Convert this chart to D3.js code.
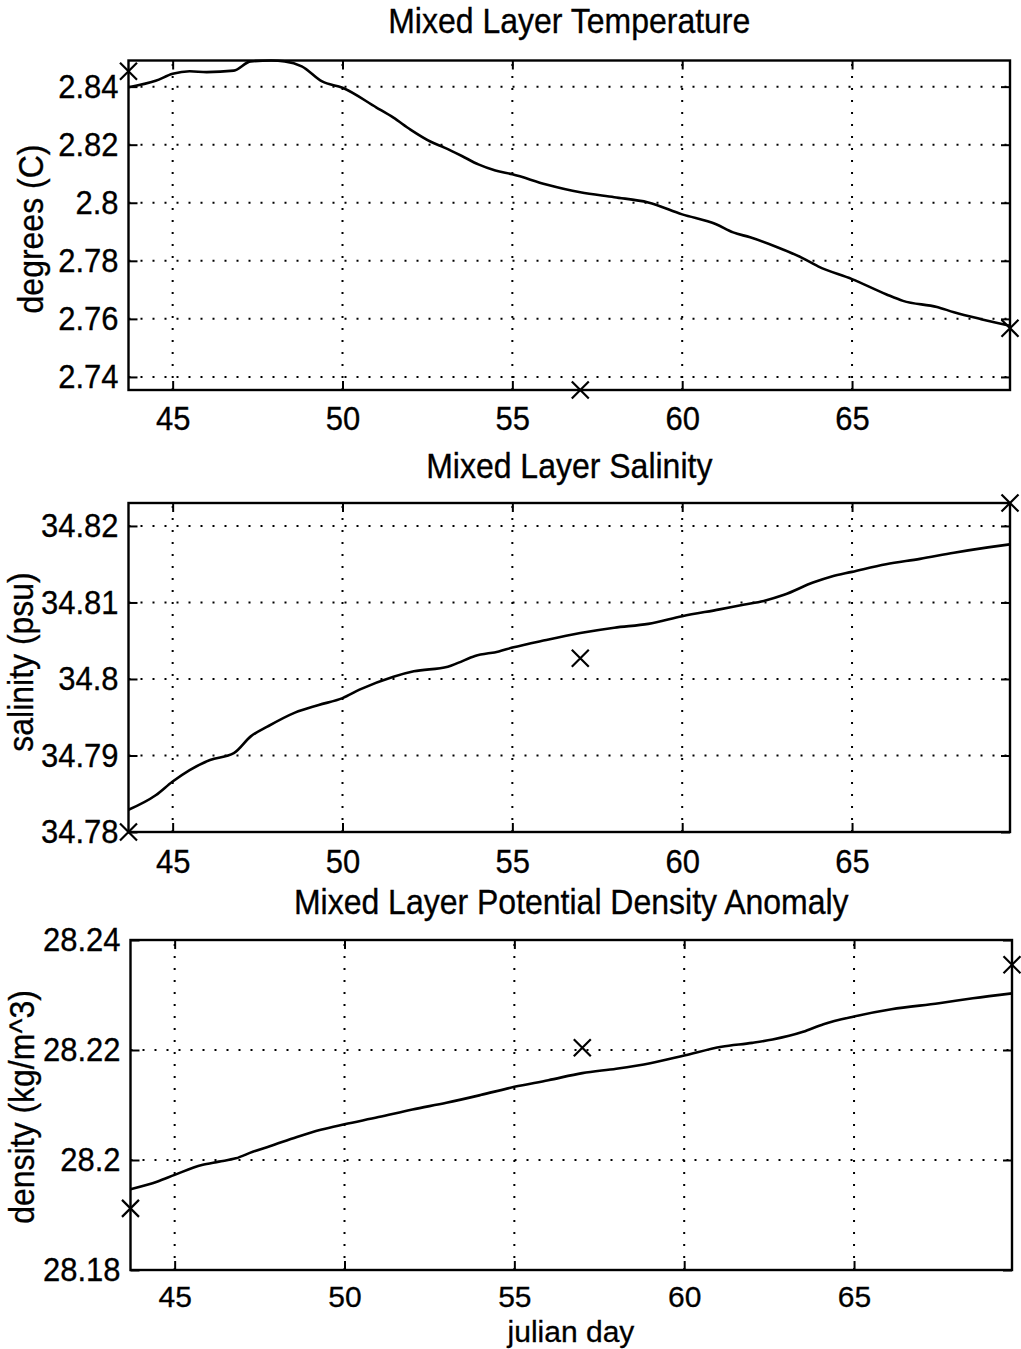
<!DOCTYPE html>
<html>
<head>
<meta charset="utf-8">
<script src="https://cdn.jsdelivr.net/npm/d3@7"></script>
<style>
  html, body { margin: 0; padding: 0; background: #fff; }
  svg { display: block; }
  text { font-family: "Liberation Sans", Arial, Helvetica, sans-serif; fill: #000; stroke: #000; stroke-width: 0.3px; }
</style>
</head>
<body>
<svg id="chart" width="1021" height="1349"></svg>
<script>
// ---------------- data ----------------
const xTicks = [45, 50, 55, 60, 65];
const markerDays = [43.7, 57, 69.65];

const tempDays = [43.7, 44.5, 45, 45.5, 46, 46.8, 47.3, 47.9, 48.3, 48.8, 49.4, 50, 51, 51.5, 52, 52.6, 53, 53.5, 54, 54.5, 55, 56, 57, 58, 59, 60, 61, 61.5, 62, 62.8, 63.5, 64, 65, 66, 66.5, 67.5, 68, 68.8, 69.65];
const tempVals = [2.8398, 2.8420, 2.8444, 2.8453, 2.8450, 2.8455, 2.8487, 2.8490, 2.8487, 2.8470, 2.8418, 2.8396, 2.8328, 2.8293, 2.8252, 2.8210, 2.8190, 2.8162, 2.8132, 2.8111, 2.8098, 2.8063, 2.8036, 2.8019, 2.8001, 2.7960, 2.7926, 2.7898, 2.7881, 2.7847, 2.7812, 2.7781, 2.7737, 2.7685, 2.7662, 2.7641, 2.7623, 2.7599, 2.7576];
const tempMarkers = [2.8453, 2.7355, 2.7568];
const tempTicks = [2.74, 2.76, 2.78, 2.80, 2.82, 2.84];

const salDays = [43.7, 44.5, 45, 45.5, 46.1, 46.8, 47.3, 47.8, 48.6, 49.3, 50, 50.5, 51.5, 52.1, 53.1, 53.4, 53.9, 54.6, 55, 56, 57, 58, 59, 60, 61.1, 61.8, 62.4, 63, 63.85, 64.4, 65, 66, 67, 68, 69, 69.65];
const salVals = [34.7829, 34.7848, 34.7866, 34.7881, 34.7894, 34.7903, 34.7925, 34.7938, 34.7956, 34.7966, 34.7975, 34.7986, 34.8003, 34.8010, 34.8016, 34.8021, 34.8030, 34.8036, 34.8041, 34.8051, 34.8060, 34.8067, 34.8072, 34.8082, 34.8091, 34.8097, 34.8102, 34.8110, 34.8126, 34.8134, 34.8140, 34.8150, 34.8157, 34.8165, 34.8172, 34.8176];
const salMarkers = [34.7800, 34.8027, 34.8230];
const salTicks = [34.78, 34.79, 34.80, 34.81, 34.82];

const densDays = [43.7, 44.5, 45, 45.8, 46.3, 46.8, 47.3, 47.8, 48.6, 49.3, 50, 51, 52, 53, 54, 55, 56, 57, 58, 59, 60, 61.1, 62, 62.6, 63.5, 64.1, 65, 66.1, 67.5, 68.5, 69.65];
const densVals = [28.1947, 28.1961, 28.1973, 28.1991, 28.1997, 28.2003, 28.2015, 28.2025, 28.2042, 28.2055, 28.2065, 28.2078, 28.2092, 28.2104, 28.2118, 28.2133, 28.2145, 28.2158, 28.2166, 28.2176, 28.2190, 28.2206, 28.2213, 28.2219, 28.2233, 28.2247, 28.2261, 28.2274, 28.2285, 28.2294, 28.2303];
const densMarkers = [28.1912, 28.2204, 28.2355];
const densTicks = [28.18, 28.20, 28.22, 28.24];

const xDomain = [43.7, 69.65];

// ---------------- layout ----------------
const svg = d3.select("#chart");
const FONT = 31, TFONT = 32, VS = 1.1;

const panels = [
  { title: "Mixed Layer Temperature", ylabel: "degrees (C)", days: tempDays, vals: tempVals, markers: tempMarkers, ticks: tempTicks,
    yDomain: [2.7355, 2.849], left: 128.5, right: 1010, top: 60.5, bottom: 390, titleY: 33, ylabX: 43, ylabY: 229, xpad: 16, xvs: VS, xfont: FONT },
  { title: "Mixed Layer Salinity", ylabel: "salinity (psu)", days: salDays, vals: salVals, markers: salMarkers, ticks: salTicks,
    yDomain: [34.78, 34.823], left: 128.5, right: 1010, top: 503, bottom: 832, titleY: 478, ylabX: 33, ylabY: 662, xpad: 17, xvs: VS, xfont: FONT },
  { title: "Mixed Layer Potential Density Anomaly", ylabel: "density (kg/m^3)", days: densDays, vals: densVals, markers: densMarkers, ticks: densTicks,
    yDomain: [28.18, 28.24], left: 130.5, right: 1012, top: 940, bottom: 1270, titleY: 914, ylabX: 34, ylabY: 1107, xpad: 16, xvs: 1, xfont: 30 }
];

const fmt = v => String(+v.toFixed(3));

// stretch texts vertically like the scanned original
function stretch(sel, vs) {
  sel.each(function () {
    const t = d3.select(this);
    const x = +t.attr("x") || 0, y = +t.attr("y") || 0;
    t.attr("x", 0).attr("y", 0).attr("transform", `translate(${x},${y}) scale(1,${vs})`);
  });
}

panels.forEach((p, i) => {
  const x = d3.scaleLinear().domain(xDomain).range([p.left, p.right]);
  const y = d3.scaleLinear().domain(p.yDomain).range([p.bottom, p.top]);
  const g = svg.append("g");
  const W = p.right - p.left, H = p.bottom - p.top;

  // grid (dotted)
  const grid = g.append("g").attr("stroke", "#000").attr("stroke-width", 2).attr("stroke-dasharray", "2,10");
  xTicks.forEach(t => {
    grid.append("line").attr("x1", x(t)).attr("x2", x(t)).attr("y1", p.bottom).attr("y2", p.top);
  });
  p.ticks.forEach(t => {
    grid.append("line").attr("x1", p.left).attr("x2", p.right).attr("y1", y(t)).attr("y2", y(t));
  });

  // axes via d3 (inward ticks)
  const xb = g.append("g").attr("transform", `translate(0,${p.bottom})`)
    .call(d3.axisBottom(x).tickValues(xTicks).tickSize(-9).tickPadding(p.xpad).tickFormat(d3.format("d")));
  const xt = g.append("g").attr("transform", `translate(0,${p.top})`)
    .call(d3.axisTop(x).tickValues(xTicks).tickSize(-9).tickFormat(""));
  const yl = g.append("g").attr("transform", `translate(${p.left},0)`)
    .call(d3.axisLeft(y).tickValues(p.ticks).tickSize(-9).tickPadding(10).tickFormat(fmt));
  const yr = g.append("g").attr("transform", `translate(${p.right},0)`)
    .call(d3.axisRight(y).tickValues(p.ticks).tickSize(-9).tickFormat(""));
  [xb, xt, yl, yr].forEach(a => {
    a.select(".domain").remove();
    a.selectAll(".tick line").attr("stroke", "#000").attr("stroke-width", 2);
    a.selectAll("text").style("font-size", FONT + "px").attr("fill", "#000");
  });
  xb.selectAll("text").attr("dy", "0.71em").style("font-size", p.xfont + "px");
  stretch(xb.selectAll("text"), p.xvs);
  stretch(yl.selectAll("text"), VS);

  // box
  g.append("rect").attr("x", p.left).attr("y", p.top).attr("width", W).attr("height", H)
    .attr("fill", "none").attr("stroke", "#000").attr("stroke-width", 2.4);

  // data line
  const line = d3.line().x((d, k) => x(p.days[k])).y(d => y(d)).curve(d3.curveMonotoneX);
  g.append("path").datum(p.vals).attr("d", line).attr("fill", "none").attr("stroke", "#000").attr("stroke-width", 2.6);

  // X markers
  const s = 8.5;
  p.markers.forEach((v, k) => {
    const cx = x(markerDays[k]), cy = y(v);
    g.append("path").attr("d", `M${cx - s},${cy - s}L${cx + s},${cy + s}M${cx - s},${cy + s}L${cx + s},${cy - s}`)
      .attr("stroke", "#000").attr("stroke-width", 2.2).attr("fill", "none");
  });

  // title
  svg.append("text").attr("transform", `translate(${(p.left + p.right) / 2},${p.titleY}) scale(1,${VS})`).attr("text-anchor", "middle")
    .style("font-size", TFONT + "px").text(p.title);

  // y label
  svg.append("text").attr("transform", `translate(${p.ylabX},${p.ylabY}) rotate(-90) scale(1,${VS})`).attr("text-anchor", "middle")
    .style("font-size", TFONT + "px").text(p.ylabel);
});

// x label
svg.append("text").attr("x", 571).attr("y", 1342).attr("text-anchor", "middle")
  .style("font-size", "30px").text("julian day");
</script>
</body>
</html>
